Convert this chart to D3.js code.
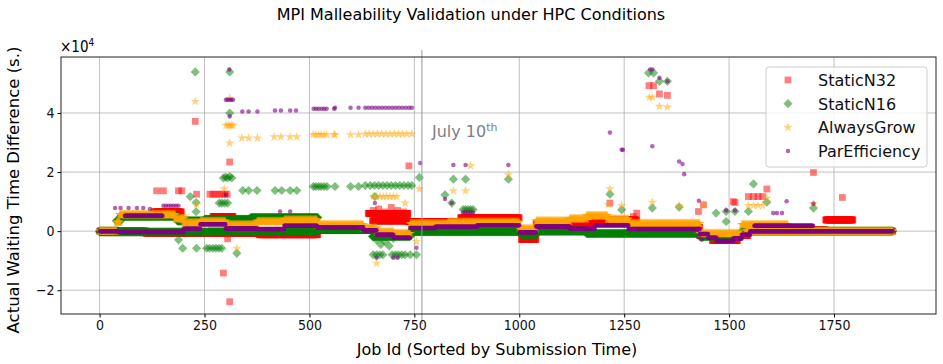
<!DOCTYPE html>
<html>
<head>
<meta charset="utf-8">
<script src="https://cdn.jsdelivr.net/npm/d3@7"></script>
<style>
  body { margin: 0; background: #fff; }
  text { font-family: "DejaVu Sans", sans-serif; }
  .cm { font-family: "DejaVu Sans", sans-serif; font-stretch: condensed; }
</style>
</head>
<body>
<svg id="mainsvg" width="943" height="364"></svg>
<script>
// series names
const seriesNames = ['StaticN32', 'StaticN16', 'AlwaysGrow', 'ParEfficiency'];
const xTicks = [0, 250, 500, 750, 1000, 1250, 1500, 1750];
const yTicks = [-20000, 0, 20000, 40000];

// dense bands: [firstJob, lastJob, waiting diff (s.)]
const redBand = [[0,110,0],[110,380,-700],[130,195,6500],[270,318,5000],[380,520,-1200],[520,640,300],[640,735,6000],
  [650,735,3500],[735,860,3200],[860,1000,4500],[1005,1040,-2800],[1040,1180,2600],[1180,1280,3800],[1280,1430,1300],
  [1430,1460,-1500],[1460,1520,-3200],[1520,1545,-1500],[1545,1610,1200],[1610,1730,400],[1730,1795,3800],[1795,1890,0]];
const greenBand = [[0,45,0],[40,50,3500],[50,185,5000],[0,260,-300],[185,250,3500],[250,360,4000],[360,520,4600],
  [260,520,-200],[520,650,500],[650,740,-1800],[740,1005,-200],[1005,1040,-1200],[1040,1160,0],[1160,1430,-800],
  [1430,1530,-1800],[1530,1890,0]];
const orangeBand = [[0,40,0],[40,48,3000],[48,180,5600],[180,200,4200],[200,240,2800],[240,300,3300],[300,375,2200],
  [375,440,3300],[440,518,3800],[518,628,2200],[628,660,1000],[660,700,-300],[700,740,-800],[740,830,2500],
  [830,1000,3000],[1000,1040,800],[1040,1120,3400],[1120,1160,4200],[1160,1210,5200],[1210,1260,4000],
  [1260,1430,2600],[1430,1530,-800],[1530,1640,2200],[1540,1890,0]];
const purpleBand = [[0,45,0],[45,200,-300],[60,150,5200],[200,240,800],[240,300,2300],[300,375,900],[375,440,700],
  [440,518,1800],[518,628,1300],[628,660,300],[660,700,-1200],[700,740,-2200],[740,800,1100],[800,900,1500],
  [900,1000,2000],[1000,1040,-400],[1040,1120,1600],[1120,1180,800],[1180,1260,2000],[1260,1430,700],
  [1430,1450,-1000],[1450,1470,-2200],[1470,1510,-3300],[1510,1530,-2500],[1530,1550,-1200],[1560,1700,1800],
  [1550,1890,0]];

// scattered jobs: [job, waiting diff (s.)]
const redPoints = [[228,37150],[310,23400],[136,13650],[152,13650],[188,13650],[196,13650],[231,12500],[263,12500],
  [270,12500],[277,12500],[285,12500],[292,12500],[299,12500],[304,12500],[305,-2600],[295,-14200],[310,-23900],
  [737,22100],[1309,49250],[1320,49250],[1334,46450],[1353,45970],[1216,9500],[1272,4950],[1280,6100],[1427,6650],
  [1439,8900],[1510,10000],[1514,9700],[1546,11700],[1558,11700],[1569,11700],[1580,11700],[1590,14250],[1701,19850],
  [1770,11400],[652,7000],[665,7500],[680,6500],[695,8000],[710,7000],[725,6500],[733,5500]];
const greenPoints = [[228,53900],[310,53900],[310,40000],[295,18000],[300,18300],[305,18000],[310,18500],[315,18000],
  [341,13760],[355,13760],[375,13760],[418,13760],[434,13760],[454,13760],[470,13760],[509,15100],[515,15100],
  [522,15100],[528,15100],[535,15100],[542,15100],[561,15100],[598,15100],[617,15100],[633,15450],[645,15450],
  [655,15450],[665,15450],[675,15450],[685,15450],[695,15450],[705,15450],[715,15450],[725,15450],[735,15450],
  [744,15450],[216,11700],[230,9700],[230,6600],[285,9500],[291,9500],[298,9500],[305,9500],[188,-2950],[198,-5800],
  [231,-5800],[255,-5800],[262,-5800],[270,-5800],[277,-5800],[284,-5800],[291,-5800],[327,-7500],[652,-8000],
  [660,-8000],[668,-8000],[675,-8000],[697,-8000],[705,-8000],[712,-8000],[720,-8000],[728,-8000],[740,-8000],
  [755,-8000],[660,-3000],[670,-4500],[680,-3500],[690,-5000],[700,-2500],[656,11700],[762,18200],[843,17600],
  [872,17600],[974,17600],[823,12300],[839,9500],[866,7300],[872,7300],[878,7300],[884,7300],[890,7300],[1216,12500],
  [1244,7200],[1308,53550],[1320,53550],[1334,50700],[1353,50700],[1317,7800],[1381,8150],[1469,6100],[1493,6650],
  [1514,6650],[1546,6650],[1558,16000],[1590,9800],[1701,7800],[1493,3250]];
const orangePoints = [[228,43900],[310,45000],[301,35800],[306,35800],[310,35800],[314,35800],[318,35800],[310,29800],
  [339,31500],[355,31500],[376,31500],[416,31900],[432,31900],[454,31900],[470,31900],[509,32650],[515,32650],
  [522,32650],[528,32650],[535,32650],[541,32650],[559,32650],[561,32650],[598,32650],[617,32650],[633,32900],
  [642,32900],[652,32900],[662,32900],[672,32900],[682,32900],[692,32900],[702,32900],[712,32900],[722,32900],
  [732,32900],[744,32900],[297,14300],[204,5200],[327,-5800],[231,9000],[652,11700],[660,11700],[668,11700],
  [676,11700],[684,11700],[692,11700],[700,11700],[708,11700],[728,9500],[755,-3500],[762,14300],[843,13650],
  [872,13650],[884,22100],[974,19100],[1216,14300],[1213,9000],[1244,8700],[1310,45300],[1317,45300],[1334,42250],
  [1353,42000],[1317,9800],[1381,8600],[1701,9250],[1590,11200],[1546,8700],[1558,8700],[1569,8700],[1580,8700],
  [1439,8900],[660,-10850]];
const purplePoints = [[309,54700],[301,44500],[305,44500],[310,44500],[314,44500],[318,44500],[310,38850],[340,40500],
  [355,40500],[376,40500],[418,40800],[432,40800],[454,40800],[468,40800],[510,41450],[516,41450],[522,41450],
  [529,41450],[535,41450],[541,41450],[559,41450],[561,41800],[598,41800],[617,41800],[633,41800],[641,41800],
  [649,41800],[657,41800],[665,41800],[673,41800],[681,41800],[689,41800],[697,41800],[705,41800],[713,41800],
  [721,41800],[729,41800],[737,41800],[744,41800],[152,8600],[158,8600],[164,8600],[170,8600],[176,8600],[182,8600],
  [188,8600],[430,6650],[454,6650],[301,12300],[764,23050],[843,22400],[872,22400],[974,22400],[823,10850],[839,9500],
  [866,6300],[872,6300],[878,6300],[884,6300],[890,6300],[656,9500],[755,-5600],[660,-9000],[700,-9000],[710,-9000],
  [1216,33400],[1244,27550],[1247,27550],[1312,54700],[1317,54700],[1334,51900],[1353,50700],[1317,28700],
  [1381,23600],[1389,22700],[1393,19300],[1637,10150],[1428,10250],[1493,7000],[1514,7000],[1605,6100],[1614,6100],
  [1626,6100],[1427,-1800],[1435,-2950],[1701,9250],[37,7800],[50,7800],[69,7800],[89,7800],[104,7800],[120,7500]];

const svg = d3.select('#mainsvg');
const plot = {left: 61, right: 936, top: 57, bottom: 314};

const xScale = d3.scaleLinear().domain([-92, 1993]).range([plot.left, plot.right]);
const yScale = d3.scaleLinear().domain([-28050, 58950]).range([plot.bottom, plot.top]);

// expand a band into one point per job
function expand(band, pts) {
  const out = [];
  band.forEach(([a, b, v]) => { for (let j = a; j <= b; j++) out.push([j, v]); });
  return out.concat(pts);
}

// grid
const grid = svg.append('g');
xTicks.forEach(t => grid.append('line').attr('x1', xScale(t)).attr('x2', xScale(t))
  .attr('y1', plot.top).attr('y2', plot.bottom).attr('stroke', '#b0b0b0').attr('stroke-width', 0.8));
yTicks.forEach(t => grid.append('line').attr('y1', yScale(t)).attr('y2', yScale(t))
  .attr('x1', plot.left).attr('x2', plot.right).attr('stroke', '#b0b0b0').attr('stroke-width', 0.8));

// series
const series = [
  {name: seriesNames[0], data: expand(redBand, redPoints), color: 'red', alpha: 0.5, sym: d3.symbolSquare, size: 46, rot: 0},
  {name: seriesNames[1], data: expand(greenBand, greenPoints), color: 'green', alpha: 0.5, sym: d3.symbolSquare, size: 42, rot: 45},
  {name: seriesNames[2], data: expand(orangeBand, orangePoints), color: 'orange', alpha: 0.5, sym: d3.symbolStar, size: 28, rot: 0},
  {name: seriesNames[3], data: expand(purpleBand, purplePoints), color: 'purple', alpha: 0.6, sym: d3.symbolCircle, size: 16, rot: 0}
];

series.forEach(s => {
  const path = d3.symbol().type(s.sym).size(s.size)();
  svg.append('g').selectAll('path')
    .data(s.data)
    .join('path')
    .attr('d', path)
    .attr('transform', d => `translate(${xScale(d[0])},${yScale(d[1])}) rotate(${s.rot})`)
    .attr('fill', s.color)
    .attr('fill-opacity', s.alpha);
});

// July 10th marker
svg.append('line').attr('x1', xScale(768)).attr('x2', xScale(768)).attr('y1', 50).attr('y2', 324)
  .attr('stroke', '#999').attr('stroke-width', 1);
const jt = svg.append('text').attr('x', xScale(768) + 10).attr('y', 137)
  .attr('fill', 'gray').style('font-size', '16px').text('July 10');
jt.append('tspan').attr('dy', -6).style('font-size', '11px').text('th');

// spines
svg.append('rect').attr('x', plot.left).attr('y', plot.top)
  .attr('width', plot.right - plot.left).attr('height', plot.bottom - plot.top)
  .attr('fill', 'none').attr('stroke', '#222').attr('stroke-width', 1);

// axes
const xAxis = svg.append('g').attr('transform', `translate(0, ${plot.bottom})`)
  .call(d3.axisBottom(xScale).tickValues(xTicks).tickSize(3.5).tickFormat(d3.format('d')));
const yAxis = svg.append('g').attr('transform', `translate(${plot.left}, 0)`)
  .call(d3.axisLeft(yScale).tickValues(yTicks).tickSize(3.5).tickFormat(d => d === 0 ? '0' : (d < 0 ? '\u2212' : '') + Math.abs(d / 10000)));
[xAxis, yAxis].forEach(a => {
  a.select('.domain').remove();
  a.selectAll('text').attr('class', 'cm').style('font-size', '14px').attr('fill', '#111');
});

svg.append('text').attr('class', 'cm').attr('x', 60).attr('y', 52).style('font-size', '15px').text('\u00d710')
  .append('tspan').attr('dy', -6).style('font-size', '10px').text('4');

// labels
svg.append('text').attr('x', 497).attr('y', 355).attr('text-anchor', 'middle')
  .style('font-size', '16px').text('Job Id (Sorted by Submission Time)');
svg.append('text').attr('transform', 'rotate(-90)').attr('x', -190).attr('y', 19).attr('text-anchor', 'middle')
  .style('font-size', '16.5px').text('Actual Waiting Time Difference (s.)');
svg.append('text').attr('x', 471).attr('y', 20).attr('text-anchor', 'middle')
  .style('font-size', '16px').text('MPI Malleability Validation under HPC Conditions');

// legend
const legend = svg.append('g').attr('transform', 'translate(766, 67)');
legend.append('rect').attr('width', 161).attr('height', 100).attr('rx', 3)
  .attr('fill', 'white').attr('fill-opacity', 0.8).attr('stroke', '#ccc');
series.forEach((s, i) => {
  const g = legend.append('g').attr('transform', `translate(0, ${13 + i * 23.7})`);
  g.append('path').attr('d', d3.symbol().type(s.sym).size(s.size)())
    .attr('transform', `translate(22,0) rotate(${s.rot})`)
    .attr('fill', s.color).attr('fill-opacity', s.alpha);
  g.append('text').attr('x', 52).attr('y', 6).style('font-size', '16px').attr('fill', '#111').text(s.name);
});
</script>
</body>
</html>
